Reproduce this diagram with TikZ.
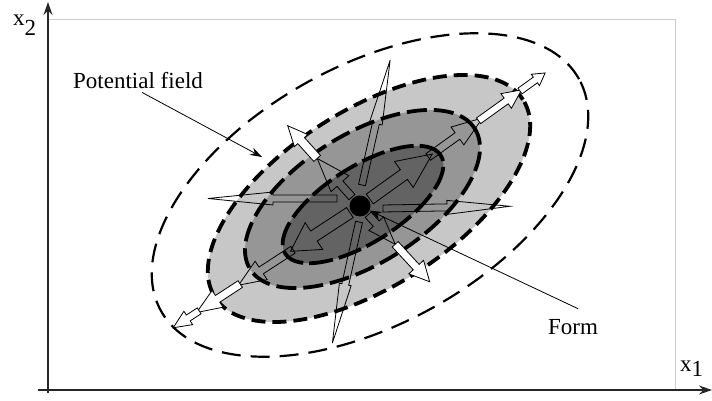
\documentclass[tikz,border=0pt]{standalone}
\usepackage{fontspec}
\setmainfont{Liberation Serif}
\usetikzlibrary{arrows.meta}

\newcommand{\fieldseg}[8][]{%
\draw[segline,#1,shift={#2},rotate=#3] (#4,-#7) -- (#5,-#7) -- (#5,-#8) -- (#6,0) -- (#5,#8) -- (#5,#7) -- (#4,#7) -- cycle;}

\begin{document}
\begin{tikzpicture}[x=1pt,y=1pt,
  lbl/.style={inner sep=0pt,font=\fontsize{23}{27}\selectfont},
  axisline/.style={line width=1.3pt,black!85,-{Stealth[length=13pt,width=9pt]}},
  pointer/.style={line width=0.8pt,-{Stealth[length=12pt,width=8pt]}},
  segline/.style={line width=0.8pt,draw=black},
  whiteseg/.style={fill=white},
  zoneline/.style={line width=3.8pt,line cap=butt},
  formdot/.style={circle,fill=black,inner sep=0pt,minimum size=21pt}]
\useasboundingbox (0,0) rectangle (712,401);

\draw[black!20,line width=1pt] (48,381) -- (675,381) -- (675,11);
\draw[axisline] (48,8) -- (48,399);
\draw[axisline] (38,11) -- (712,11);
\node[lbl,anchor=base west] (xtwo) at (13,375) {x\raisebox{-10pt}{2}};
\node[lbl,anchor=base west] (xone) at (680,29) {x\raisebox{-5pt}{1}};

\draw[line width=2.2pt,dash pattern=on 19pt off 10pt,shift={(370,206)},rotate=29] (0,0) ellipse [x radius=239,y radius=129];
\filldraw[zoneline,fill=black!22,dash pattern=on 14pt off 7pt,shift={(369,202.5)},rotate=32.7] (0,0) ellipse [x radius=183,y radius=88];
\filldraw[zoneline,fill=black!41,dash pattern=on 20pt off 7pt,shift={(362.5,202)},rotate=32] (0,0) ellipse [x radius=132.5,y radius=64.6];
\filldraw[zoneline,fill=black!61,dash pattern=on 24pt off 6pt,shift={(363,196.5)},rotate=32.3] (0,0) ellipse [x radius=92,y radius=38];

\node[formdot] (body) at (360,195) {};

\fieldseg{(362,216)}{77.3}{0}{63}{128}{3.5}{6.5}
\fieldseg{(359,179)}{257.6}{0}{64}{124}{3.5}{6}
\fieldseg{(337,202.5)}{180}{0}{64}{129}{3.5}{6.5}
\fieldseg{(383,192.5)}{1}{0}{64}{127}{3.5}{7}

\fieldseg{(body)}{35.7}{12}{54}{89}{6}{16}
\fieldseg{(body)}{35.7}{84}{120}{151}{4}{11}
\fieldseg[whiteseg]{(body)}{35.7}{146}{180}{199}{3.5}{9}
\fieldseg[whiteseg]{(body)}{35.7}{197}{216}{228}{3.5}{7}

\fieldseg{(body)}{213.1}{12}{55}{83}{6}{16}
\fieldseg{(body)}{213.1}{80}{118}{145}{4}{11}
\fieldseg[whiteseg]{(body)}{213.1}{143}{170}{195}{4}{10}
\fieldseg[whiteseg]{(body)}{213.1}{192}{205}{223}{3.5}{8}

\fieldseg{(body)}{132}{12}{30}{64}{4}{12}
\fieldseg[whiteseg]{(body)}{132}{64}{88}{108}{4.5}{9}
\fieldseg{(body)}{-47.4}{12}{24}{52}{4}{10}
\fieldseg[whiteseg]{(body)}{-47.4}{52}{83}{103}{4}{10}

\node[lbl,anchor=base west] (pf) at (73,312) {Potential field};
\coordinate (pftip) at (262,244);
\draw[pointer] ([xshift=4pt,yshift=-3pt]pf.south) -- (pftip);
\node[lbl,anchor=base west] (form) at (548,66) {Form};
\draw[pointer] ([xshift=5pt,yshift=11pt]form.north) -- (body);
\end{tikzpicture}
\end{document}
